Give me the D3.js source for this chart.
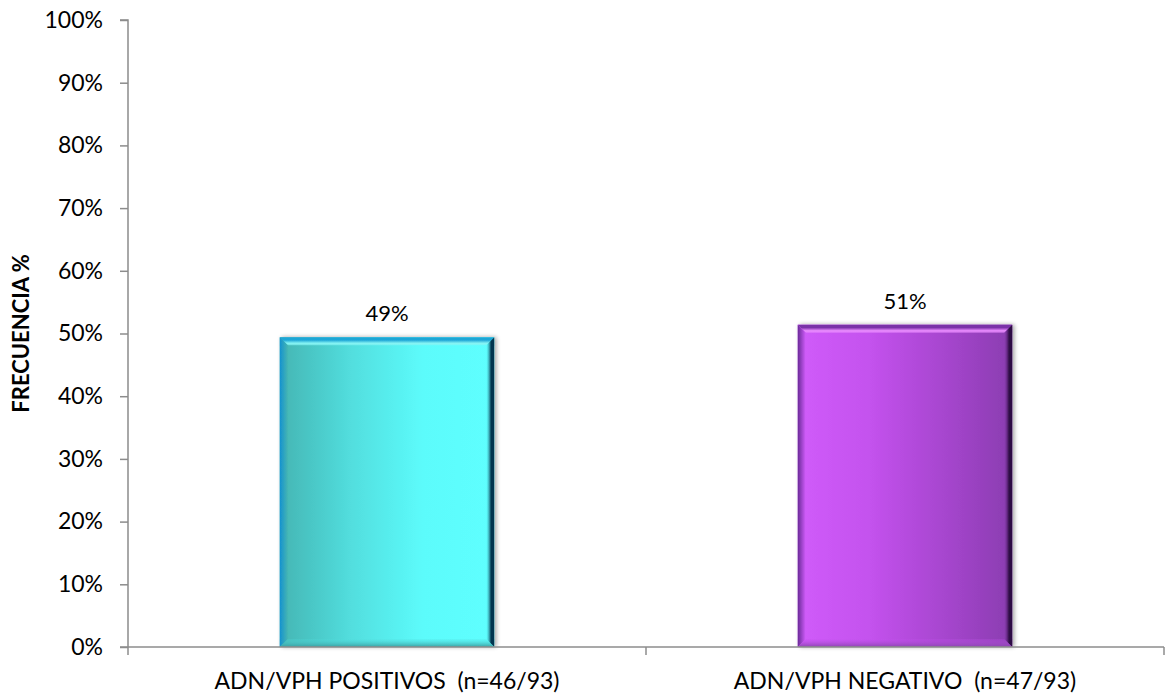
<!DOCTYPE html>
<html>
<head>
<meta charset="utf-8">
<script src="https://cdn.jsdelivr.net/npm/d3@7/dist/d3.min.js"></script>
<style>
  html, body { margin: 0; padding: 0; background: #fff; }
  svg { display: block; }
  text { font-family: Lato, "Open Sans", sans-serif; fill: #000; white-space: pre; }
</style>
</head>
<body>
<svg id="chart" width="1165" height="694"></svg>
<script>
// Frequency of HPV DNA results
const categories = ["ADN/VPH POSITIVOS  (n=46/93)", "ADN/VPH NEGATIVO  (n=47/93)"];
const values = [0.494, 0.514];
const yTicks = [0, 0.1, 0.2, 0.3, 0.4, 0.5, 0.6, 0.7, 0.8, 0.9, 1.0];
const yTitle = "FRECUENCIA %";

// colour sets per bar: body gradient stops + bevel tones
const palettes = [
  { body: ["#44b5b3", "#52dede", "#5cfbfb", "#5effff"],
    top: "#1ea6d6", topLight: "#86f4f4", left: "#1592cf", right: "#06344f", bottom: "#3a9ea0" },
  { body: ["#d05cfa", "#c452ee", "#a846d0", "#8a3db0"],
    top: "#7a30a8", topLight: "#ea8cff", left: "#6a2a98", right: "#2e0c44", bottom: "#8a46ae" }
];

const svg = d3.select("#chart");
const W = 1165, H = 694;
const m = { left: 128, right: 1, top: 20, bottom: 47 };

const x = d3.scaleBand().domain(categories).range([m.left, W - m.right]).padding(0);
const y = d3.scaleLinear().domain([0, 1]).range([H - m.bottom, m.top]);
const barW = x.bandwidth() * 0.414;
const bevel = 8;

const defs = svg.append("defs");
palettes.forEach((p, i) => {
  const g = defs.append("linearGradient").attr("id", "body" + i)
    .attr("x1", "0%").attr("x2", "100%").attr("y1", "0%").attr("y2", "0%");
  p.body.forEach((c, k) => g.append("stop").attr("offset", (k / (p.body.length - 1) * 100) + "%").attr("stop-color", c));
  const t = defs.append("linearGradient").attr("id", "top" + i)
    .attr("x1", "0%").attr("x2", "0%").attr("y1", "0%").attr("y2", "100%");
  t.append("stop").attr("offset", "0%").attr("stop-color", p.top);
  t.append("stop").attr("offset", "35%").attr("stop-color", p.top);
  t.append("stop").attr("offset", "75%").attr("stop-color", p.topLight);
  t.append("stop").attr("offset", "100%").attr("stop-color", p.topLight).attr("stop-opacity", 0.6);
  const r = defs.append("linearGradient").attr("id", "right" + i)
    .attr("x1", "0%").attr("x2", "100%").attr("y1", "0%").attr("y2", "0%");
  r.append("stop").attr("offset", "0%").attr("stop-color", p.body[p.body.length - 1]).attr("stop-opacity", 0.3);
  r.append("stop").attr("offset", "60%").attr("stop-color", p.right);
  r.append("stop").attr("offset", "100%").attr("stop-color", p.right);
  const l = defs.append("linearGradient").attr("id", "left" + i)
    .attr("x1", "0%").attr("x2", "100%").attr("y1", "0%").attr("y2", "0%");
  l.append("stop").attr("offset", "0%").attr("stop-color", p.left);
  l.append("stop").attr("offset", "100%").attr("stop-color", p.body[0]);
  const b = defs.append("linearGradient").attr("id", "bottom" + i)
    .attr("x1", "0%").attr("x2", "0%").attr("y1", "0%").attr("y2", "100%");
  b.append("stop").attr("offset", "0%").attr("stop-color", p.body[1]).attr("stop-opacity", 0.2);
  b.append("stop").attr("offset", "100%").attr("stop-color", p.bottom);
});
const sh = defs.append("filter").attr("id", "shadow").attr("x", "-10%").attr("y", "-10%").attr("width", "130%").attr("height", "130%");
sh.append("feGaussianBlur").attr("in", "SourceAlpha").attr("stdDeviation", 2);
sh.append("feOffset").attr("dx", 2).attr("dy", 0).attr("result", "o");
sh.append("feComponentTransfer").append("feFuncA").attr("type", "linear").attr("slope", 0.35);
const fm = sh.append("feMerge");
fm.append("feMergeNode");
fm.append("feMergeNode").attr("in", "SourceGraphic");

// bars with bevelled edges
const bars = svg.append("g").selectAll("g.bar").data(categories).join("g").attr("class", "bar")
  .attr("filter", "url(#shadow)");
bars.each(function (c, i) {
  const g = d3.select(this);
  const x0 = x(c) + (x.bandwidth() - barW) / 2, x1 = x0 + barW;
  const y0 = y(values[i]), y1 = y(0);
  g.append("rect").attr("x", x0).attr("y", y0).attr("width", barW).attr("height", y1 - y0)
    .attr("fill", `url(#body${i})`);
  const poly = pts => pts.map(p => p.join(",")).join(" ");
  g.append("polygon").attr("points", poly([[x0, y0], [x1, y0], [x1 - bevel, y0 + bevel], [x0 + bevel, y0 + bevel]]))
    .attr("fill", `url(#top${i})`);
  g.append("polygon").attr("points", poly([[x0, y0], [x0 + bevel, y0 + bevel], [x0 + bevel, y1 - bevel], [x0, y1]]))
    .attr("fill", `url(#left${i})`);
  g.append("polygon").attr("points", poly([[x1, y0], [x1, y1], [x1 - bevel, y1 - bevel], [x1 - bevel, y0 + bevel]]))
    .attr("fill", `url(#right${i})`);
  g.append("polygon").attr("points", poly([[x0, y1], [x0 + bevel, y1 - bevel], [x1 - bevel, y1 - bevel], [x1, y1]]))
    .attr("fill", `url(#bottom${i})`);
});

// value labels
svg.append("g").selectAll("text").data(categories).join("text")
  .attr("x", c => x(c) + x.bandwidth() / 2)
  .attr("y", (c, i) => y(values[i]) - 16)
  .attr("text-anchor", "middle")
  .style("font-size", "22px")
  .text((c, i) => d3.format(".0%")(values[i]));

// y axis
const yAxis = d3.axisLeft(y).tickValues(yTicks).tickFormat(d3.format(".0%")).tickSize(8).tickPadding(17);
const gy = svg.append("g").attr("transform", `translate(${m.left},0)`).call(yAxis);
gy.select(".domain").attr("stroke", "#8c8c8c").attr("stroke-width", 1.5).attr("d", `M-8,${y(1)}H0V${y(0)}`);
gy.selectAll(".tick line").attr("stroke", "#8c8c8c").attr("stroke-width", 1.5);
gy.selectAll(".tick text").style("font-size", "23px").style("font-family", "Lato, sans-serif").attr("fill", "#000");

// x axis with ticks on category boundaries
const gx = svg.append("g");
gx.append("line").attr("x1", m.left - 8).attr("x2", W - m.right).attr("y1", y(0)).attr("y2", y(0))
  .attr("stroke", "#8c8c8c").attr("stroke-width", 1.5);
const bounds = categories.map(c => x(c)).concat([x(categories[categories.length - 1]) + x.bandwidth()]);
gx.selectAll("line.tick").data(bounds).join("line").attr("class", "tick")
  .attr("x1", d => d).attr("x2", d => d).attr("y1", y(0)).attr("y2", y(0) + 8)
  .attr("stroke", "#8c8c8c").attr("stroke-width", 1.5);
gx.selectAll("text").data(categories).join("text")
  .attr("x", c => x(c) + x.bandwidth() / 2)
  .attr("y", y(0) + 42)
  .attr("text-anchor", "middle")
  .style("font-size", "23px")
  .text(c => c);

// y axis title
svg.append("text")
  .attr("transform", `translate(29,${(y(0) + y(1)) / 2}) rotate(-90)`)
  .attr("text-anchor", "middle")
  .style("font-size", "22px").style("font-weight", "bold")
  .text(yTitle);
</script>
</body>
</html>
